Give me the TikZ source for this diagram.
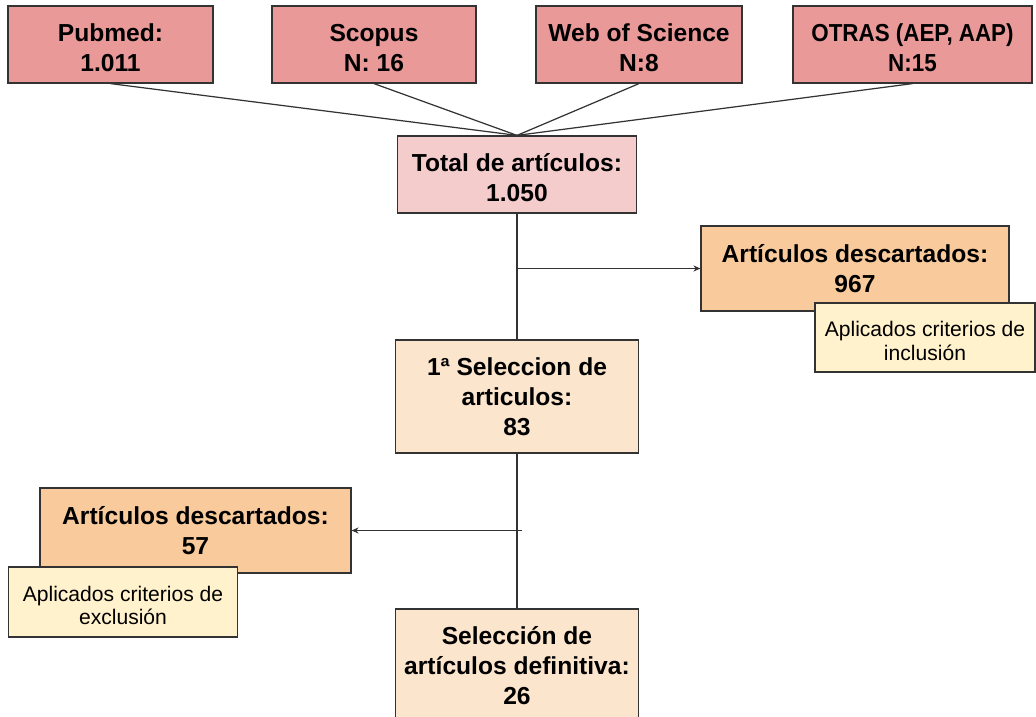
\documentclass[tikz,border=0pt]{standalone}
\usepackage{fontspec}
\setmainfont{Liberation Sans}
\usepackage{tikz}
\usetikzlibrary{arrows.meta}
\definecolor{fuente}{HTML}{EA9999}
\definecolor{total}{HTML}{F4CCCC}
\definecolor{descarte}{HTML}{F9CB9C}
\definecolor{seleccion}{HTML}{FCE5CD}
\definecolor{criterio}{HTML}{FFF2CC}
\definecolor{borde}{HTML}{333333}
\newcommand{\bajar}{\rule{0pt}{14.2pt}}
\newcommand{\bajarnota}{\rule{0pt}{12.6pt}}
\newcommand{\estrecho}[1]{\scalebox{0.91}[1]{#1}}

\begin{document}
\begin{tikzpicture}[x=0.02cm,y=-0.02cm,
	caja/.style={draw=borde,line width=0.7pt,align=center,inner sep=0pt,
		font=\fontsize{14}{17}\selectfont\bfseries},
	nota/.style={draw=borde,line width=0.7pt,fill=criterio,align=center,inner sep=0pt,
		font=\fontsize{12}{13.5}\selectfont},
	linea/.style={draw=borde,line width=0.7pt},
	flecha/.style={linea,-{Stealth[length=4pt,width=3.5pt]}}]
	\useasboundingbox (0,0) rectangle (1036,717);
	\clip (0,0) rectangle (1036,717);
	\node[caja,fill=fuente,minimum width=4.1cm,minimum height=1.54cm] (pubmed) at (110.5,44.5) {\bajar Pubmed:\\1.011};
	\node[caja,fill=fuente,minimum width=4.08cm,minimum height=1.54cm] (scopus) at (374,44.5) {\bajar Scopus\\N: 16};
	\node[caja,fill=fuente,minimum width=4.12cm,minimum height=1.54cm] (wos) at (639,44.5) {\bajar Web of Science\\N:8};
	\node[caja,fill=fuente,minimum width=4.78cm,minimum height=1.54cm] (otras) at (912.5,44.5) {\bajar\estrecho{OTRAS (AEP, AAP)}\\\estrecho{N:15}};
	\node[caja,fill=total,minimum width=4.78cm,minimum height=1.54cm] (total) at (517,174.5) {\bajar Total de artículos:\\1.050};
	\node[caja,fill=seleccion,minimum width=4.86cm,minimum height=2.26cm] (sel1) at (517,396.5) {1ª Seleccion de\\articulos:\\83};
	\node[caja,fill=seleccion,minimum width=4.86cm,minimum height=2.26cm] (sel2) at (517,665.5) {Selección de\\artículos definitiva:\\26};
	\node[caja,fill=descarte,minimum width=6.16cm,minimum height=1.7cm] (descart1) at (855,268.5) {Artículos descartados:\\967};
	\node[nota,minimum width=4.4cm,minimum height=1.38cm] (incl) at (925,337.5) {\bajarnota Aplicados criterios de\\inclusión};
	\node[caja,fill=descarte,minimum width=6.22cm,minimum height=1.7cm] (descart2) at (195.5,530.5) {Artículos descartados:\\57};
	\node[nota,minimum width=4.59cm,minimum height=1.4cm] (excl) at (123,602) {\bajarnota Aplicados criterios de\\exclusión};
	\draw[linea] (pubmed.south) -- (total.north);
	\draw[linea] (scopus.south) -- (total.north);
	\draw[linea] (wos.south) -- (total.north);
	\draw[linea] (otras.south) -- (total.north);
	\draw[linea] (total.south) -- (sel1.north);
	\draw[linea] (sel1.south) -- (sel2.north);
	\coordinate (cruce1) at (total.south |- descart1.west);
	\coordinate (cruce2) at ([xshift=3]sel1.south |- descart2.east);
	\draw[flecha] (cruce1) -- (descart1.west);
	\draw[flecha] (cruce2) -- (descart2.east);
\end{tikzpicture}
\end{document}
